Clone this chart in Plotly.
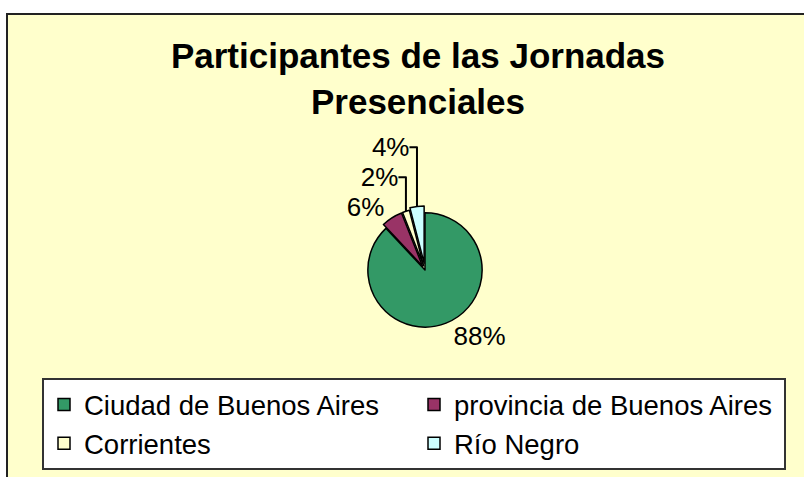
import plotly.graph_objects as go

categories = ["Ciudad de Buenos Aires", "provincia de Buenos Aires", "Corrientes", "Río Negro"]
values = [88, 6, 2, 4]
colors = ["#339966", "#993366", "#FFFFCC", "#CCFFFF"]
pulls = [0, 0.08, 0.08, 0.12]

W, H = 804, 477
FONT = "Liberation Sans, Arial, sans-serif"
fig = go.Figure()
fig.add_trace(go.Pie(
    labels=categories,
    values=values,
    sort=False,
    direction="clockwise",
    rotation=0,
    pull=pulls,
    marker=dict(colors=colors, line=dict(color="#000000", width=1.5)),
    textinfo="percent",
    texttemplate="%{percent:.0%}",
    textposition="outside",
    textfont=dict(family=FONT, size=26, color="#000000"),
    domain=dict(x=[(425 - 64) / W, (425 + 64) / W], y=[1 - (270 + 64) / H, 1 - (270 - 64) / H]),
    showlegend=True,
))

fig.update_layout(
    width=W, height=H,
    margin=dict(l=0, r=0, t=0, b=0, autoexpand=False),
    paper_bgcolor="#FFFFFF",
    plot_bgcolor="#FFFFFF",
    title=dict(
        text="Participantes de las Jornadas<br>Presenciales",
        x=418 / W, xanchor="center",
        y=1 - 68 / H, yanchor="top",
        font=dict(family=FONT, size=35, color="#000000", weight="bold"),
    ),
    shapes=[dict(
        type="rect", xref="paper", yref="paper",
        x0=7 / W, x1=1.02, y0=-0.02, y1=1 - 14 / H,
        fillcolor="#FFFFCC", line=dict(color="#222222", width=2), layer="below",
    )],
    legend=dict(
        orientation="h",
        x=42 / W, xanchor="left",
        y=1 - 378 / H, yanchor="top",
        bgcolor="#FFFFFF",
        bordercolor="#333333", borderwidth=2,
        font=dict(family=FONT, size=27.5, color="#000000"),
        entrywidth=325, entrywidthmode="pixels",
        itemwidth=30,
        traceorder="normal",
    ),
)

fig.write_html(
    "out.html",
    config={"displayModeBar": False},
    post_script="document.body.style.margin='0px';",
)
